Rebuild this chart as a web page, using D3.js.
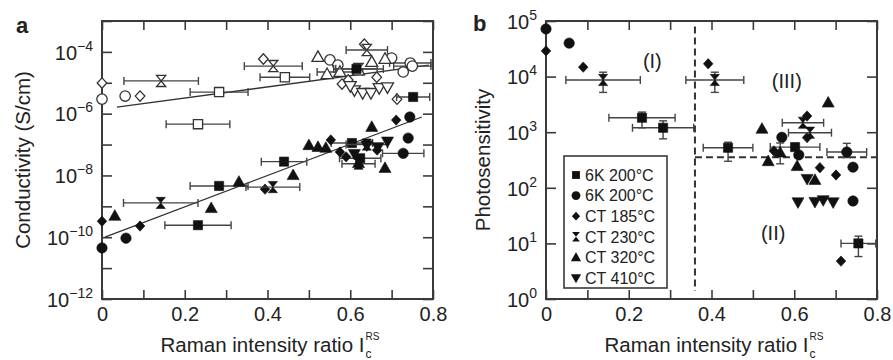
<!DOCTYPE html>
<html><head><meta charset="utf-8">
<script src="https://cdn.jsdelivr.net/npm/d3@7"></script>
<style>body{margin:0;background:#fff}svg{display:block}text{font-family:"Liberation Sans",Arial,Helvetica,sans-serif;fill:#222}</style>
</head><body><svg id="c" width="893" height="360"></svg>
<script>
// ---------- DATA ----------
const shapes = ["square","circle","diamond","hourglass","triangle","triangleDown"];
const legendLabels = ["6K 200°C","6K 200°C","CT 185°C","CT 230°C","CT 320°C","CT 410°C"];
const xTicks = [0,0.1,0.2,0.3,0.4,0.5,0.6,0.7,0.8];
const condTicks = [1e-12,1e-11,1e-10,1e-9,1e-8,1e-7,1e-6,1e-5,1e-4,1e-3];
const photoTicks = [1,10,100,1000,10000,100000];

// Panel a: [ratio, conductivity, xerr]  (open = upper group)
const aOpenSquare = [[0.283,5.0e-6,0.07],[0.232,4.57e-7,0.077],[0.442,1.51e-5,0.06]];
const aOpenCircle = [[0,2.95e-6,0],[0.056,3.72e-6,0],[0.551,5.5e-5,0],[0.57,3.72e-5,0],[0.728,2.24e-5,0],[0.745,4.37e-5,0.05],[0.75,3.47e-5,0.045],[0.70,6.3e-5,0]];
const aOpenDiamond = [[0,9.8e-6,0],[0.092,3.7e-6,0],[0.39,5.9e-5,0],[0.595,1.23e-5,0],[0.58,9.1e-6,0],[0.634,1.78e-4,0],[0.664,1.5e-5,0],[0.713,2.95e-6,0]];
const aOpenHourglass = [[0.143,1.15e-5,0.09],[0.414,3.47e-5,0.07],[0.64,1.15e-4,0.05],[0.62,2.8e-5,0.06]];
const aOpenTriangle = [[0.522,6.8e-5,0],[0.544,1.9e-5,0],[0.575,2.24e-5,0.055],[0.652,4.7e-5,0],[0.684,5.9e-5,0],[0.62,2.5e-5,0]];
const aOpenTriangleDown = [[0.61,5.75e-6,0],[0.63,4.7e-6,0],[0.65,4.7e-6,0],[0.67,6.8e-6,0],[0.69,7.2e-6,0],[0.60,7.9e-6,0]];
const aUpperFilledSquare = [[0.752,3.47e-6,0.04],[0.615,2.82e-5,0.05]];

const aSquare = [[0.232,2.45e-10,0.08],[0.283,4.57e-9,0.07],[0.44,2.8e-8,0.055],[0.624,3.6e-8,0.05],[0.604,1.12e-7,0.05]];
const aCircle = [[0,4.5e-11,0],[0.058,9.3e-11,0],[0.744,7.8e-7,0],[0.74,1.62e-7,0],[0.728,5.2e-8,0.05]];
const aDiamond = [[0,3.3e-10,0],[0.092,2.3e-10,0],[0.394,3.6e-9,0],[0.553,1.41e-7,0],[0.711,6.2e-7,0],[0.575,5.75e-8,0],[0.59,4.0e-8,0],[0.665,6.6e-8,0]];
const aHourglass = [[0.142,1.29e-9,0.09],[0.413,4.2e-9,0.065],[0.62,2.4e-8,0.04],[0.64,1.0e-7,0.05]];
const aTriangle = [[0.031,4.9e-10,0],[0.264,8.7e-10,0],[0.331,6.2e-9,0],[0.462,1.02e-8,0],[0.50,9.5e-8,0],[0.522,8.3e-8,0],[0.541,7.8e-8,0],[0.652,3.7e-7,0],[0.684,1.74e-8,0],[0.62,2.5e-8,0]];
const aTriangleDown = [[0.667,8.3e-8,0],[0.69,1.26e-7,0],[0.64,9.5e-8,0],[0.61,5.0e-8,0]];

// fit lines [ratio, conductivity] end points
const aUpperFit = [[0.036,1.62e-6],[0.79,3.7e-5]];
const aLowerFit = [[0.007,1.0e-10],[0.773,7.8e-7]];

// Panel b: [ratio, photosensitivity, xerr, ylow, yhigh]
const bSquare = [[0.232,1820,0.08,1200,2300],[0.283,1200,0.074,760,1600],[0.44,525,0.06,300,660],[0.602,540,0.06,0,0],[0.755,10,0.042,5.8,13.5]];
const bCircle = [[0,72000,0,0,0],[0.056,40000,0,0,0],[0.57,810,0,0,0],[0.611,390,0,0,0],[0.727,440,0.048,350,630],[0.742,235,0,0,0],[0.742,58,0,0,0]];
const bDiamond = [[0,29000,0,0,0],[0.09,14800,0,0,0],[0.392,17000,0,0,0],[0.631,1950,0,0,0],[0.631,800,0,0,0],[0.551,460,0,0,0],[0.662,230,0,0,0],[0.701,170,0,0,0],[0.713,4.8,0,0,0]];
const bHourglass = [[0.138,8700,0.09,5200,12000],[0.408,8700,0.07,5200,12000],[0.621,1480,0.05,0,0],[0.638,980,0.052,0,0]];
const bTriangle = [[0.522,1150,0,0,0],[0.682,3400,0,0,0],[0.566,430,0,270,640],[0.537,300,0,0,0],[0.607,245,0,0,0],[0.65,138,0,0,0]];
const bTriangleDown = [[0.631,145,0,0,0],[0.609,55,0,0,0],[0.65,56,0,0,0],[0.67,60,0,0,0],[0.694,55,0,0,0]];

const bThresholdX = 0.36;
const bThresholdY = 355;
const regionLabels = [["(I)",0.257,14300],["(III)",0.582,6240],["(II)",0.549,11.5]];

// ---------- DRAW ----------
const svg = d3.select("#c");
const ink = "#222", frame = "#3a3a3a";

function markerPath(shape){
  switch(shape){
    case "square": return "M-4.6,-4.6H4.6V4.6H-4.6Z";
    case "circle": return d3.symbol(d3.symbolCircle, 85)();
    case "diamond": return "M0,-5.2L4.8,0L0,5.2L-4.8,0Z";
    case "hourglass": return "M-4.6,-5.6H4.6L-4.6,5.6H4.6Z";
    case "triangle": return "M0,-6.2L6,4.4H-6Z";
    case "triangleDown": return "M0,6.2L6,-4.4H-6Z";
  }
}

function makePanel(opt){
  const g = svg.append("g");
  const x = d3.scaleLinear().domain([0,0.8]).range([opt.left,opt.right]);
  const y = d3.scaleLog().domain(opt.ydom).range([opt.bottom,opt.top]);
  const ax = (gen, tr) => g.append("g").attr("transform",tr).call(gen)
    .call(s=>s.select(".domain").remove())
    .call(s=>s.selectAll("line").attr("stroke",frame).attr("stroke-width",1.6));
  const bot = ax(d3.axisBottom(x).tickValues(xTicks).tickSize(-9).tickPadding(8)
      .tickFormat(d=> (Math.round(d*10)%2===0) ? (d===0?"0":d3.format(".1f")(d)) : ""),
      `translate(0,${opt.bottom})`);
  bot.selectAll("text").attr("font-size",20).attr("fill",ink).style("font-family","Liberation Sans, Arial");
  ax(d3.axisTop(x).tickValues(xTicks).tickSize(-9).tickFormat(""), `translate(0,${opt.top})`);
  const left = ax(d3.axisLeft(y).tickValues(opt.yticks).tickSize(-10).tickPadding(9).tickFormat(""), `translate(${opt.left},0)`);
  ax(d3.axisRight(y).tickValues(opt.yticks).tickSize(-10).tickFormat(""), `translate(${opt.right},0)`);
  left.selectAll(".tick").each(function(d){
    const e = Math.round(Math.log10(d));
    if(!opt.labelExp(e)) return;
    const t = d3.select(this).append("text").attr("x",-9).attr("dy","0.36em")
      .attr("text-anchor","end").attr("fill",ink).attr("font-size",20);
    t.append("tspan").text("10");
    t.append("tspan").attr("font-size",14).attr("dy",-9).text(e<0 ? "\u2212"+(-e) : String(e));
  });
  g.append("rect").attr("x",opt.left).attr("y",opt.top).attr("width",opt.right-opt.left)
    .attr("height",opt.bottom-opt.top).attr("fill","none").attr("stroke",frame).attr("stroke-width",2);
  // x title
  const cx = (opt.left+opt.right)/2;
  const tt = g.append("text").attr("font-size",20.5).attr("fill",ink).attr("y",352).text("Raman intensity ratio I");
  const tw = tt.node().getComputedTextLength();
  const sx = cx - (tw+10)/2;
  tt.attr("x",sx);
  g.append("text").attr("x",sx+tw+1).attr("y",358).attr("font-size",12).attr("fill",ink).text("c");
  g.append("text").attr("x",sx+tw+1).attr("y",340).attr("font-size",10).attr("fill",ink).text("RS");
  // y title
  g.append("text").attr("transform",`translate(${opt.ytitleX},160) rotate(-90)`).attr("text-anchor","middle")
    .attr("font-size",20.5).attr("fill",ink).text(opt.ytitle);
  g.append("text").attr("x",opt.labelX).attr("y",opt.labelY).attr("font-size",22).attr("font-weight","bold")
    .attr("fill","#111").text(opt.label);
  return {g,x,y};
}

function drawSeries(P, data, shape, filled, hasY){
  const eb = P.g.append("g").attr("stroke","#444").attr("stroke-width",1.4).attr("fill","none");
  data.forEach(d=>{
    const px = P.x(d[0]), py = P.y(d[1]);
    if(d[2]>0){
      const x0=P.x(d[0]-d[2]), x1=P.x(d[0]+d[2]);
      eb.append("line").attr("x1",x0).attr("x2",x1).attr("y1",py).attr("y2",py);
      eb.append("line").attr("x1",x0).attr("x2",x0).attr("y1",py-4).attr("y2",py+4);
      eb.append("line").attr("x1",x1).attr("x2",x1).attr("y1",py-4).attr("y2",py+4);
    }
    if(hasY && d[3]>0){
      const y0=P.y(d[3]), y1=P.y(d[4]);
      eb.append("line").attr("x1",px).attr("x2",px).attr("y1",y0).attr("y2",y1);
      eb.append("line").attr("x1",px-4).attr("x2",px+4).attr("y1",y0).attr("y2",y0);
      eb.append("line").attr("x1",px-4).attr("x2",px+4).attr("y1",y1).attr("y2",y1);
    }
  });
  P.g.append("g").selectAll("path").data(data).join("path")
    .attr("d",markerPath(shape))
    .attr("transform",d=>`translate(${P.x(d[0])},${P.y(d[1])})`)
    .attr("fill",filled?"#111":"#fff").attr("stroke",filled?"#111":"#333").attr("stroke-width",filled?0.6:1.3);
}

// Panel a
const A = makePanel({left:102,right:433,top:21,bottom:299,ydom:[1e-12,1e-3],yticks:condTicks,
  labelExp:e=>e%2===0, ytitle:"Conductivity (S/cm)", ytitleX:30, label:"a", labelX:16, labelY:33});
const line = d3.line().x(d=>A.x(d[0])).y(d=>A.y(d[1]));
A.g.append("path").attr("d",line(aUpperFit)).attr("stroke","#333").attr("stroke-width",1.3).attr("fill","none");
A.g.append("path").attr("d",line(aLowerFit)).attr("stroke","#333").attr("stroke-width",1.3).attr("fill","none");
[[aOpenSquare,"square"],[aOpenCircle,"circle"],[aOpenDiamond,"diamond"],[aOpenHourglass,"hourglass"],
 [aOpenTriangle,"triangle"],[aOpenTriangleDown,"triangleDown"]].forEach(([d,s])=>drawSeries(A,d,s,false,false));
drawSeries(A,aUpperFilledSquare,"square",true,false);
[[aSquare,"square"],[aCircle,"circle"],[aDiamond,"diamond"],[aHourglass,"hourglass"],
 [aTriangle,"triangle"],[aTriangleDown,"triangleDown"]].forEach(([d,s])=>drawSeries(A,d,s,true,false));

// Panel b
const B = makePanel({left:546,right:877,top:21,bottom:299,ydom:[1,1e5],yticks:photoTicks,
  labelExp:e=>true, ytitle:"Photosensitivity", ytitleX:490, label:"b", labelX:473, labelY:31});
B.g.append("line").attr("x1",B.x(bThresholdX)).attr("x2",B.x(bThresholdX)).attr("y1",B.y(80000)).attr("y2",B.y(1.4))
  .attr("stroke","#333").attr("stroke-width",2).attr("stroke-dasharray","7,4");
B.g.append("line").attr("x1",B.x(bThresholdX)).attr("x2",B.x(0.8)).attr("y1",B.y(bThresholdY)).attr("y2",B.y(bThresholdY))
  .attr("stroke","#333").attr("stroke-width",2).attr("stroke-dasharray","7,4");
regionLabels.forEach(r=>B.g.append("text").attr("x",B.x(r[1])).attr("y",B.y(r[2])).attr("text-anchor","middle")
  .attr("font-size",20).attr("fill",ink).text(r[0]));
[[bSquare,"square"],[bCircle,"circle"],[bDiamond,"diamond"],[bHourglass,"hourglass"],
 [bTriangle,"triangle"],[bTriangleDown,"triangleDown"]].forEach(([d,s])=>drawSeries(B,d,s,true,true));

// legend
const L = B.g.append("g");
L.append("rect").attr("x",564).attr("y",156).attr("width",103).attr("height",132).attr("fill","#fff")
  .attr("stroke",frame).attr("stroke-width",1.6);
shapes.forEach((s,i)=>{
  const yy = 175 + i*20.6;
  L.append("path").attr("d",markerPath(s)).attr("transform",`translate(576,${yy}) scale(0.85)`).attr("fill","#111");
  L.append("text").attr("x",585).attr("y",yy).attr("dy","0.36em").attr("font-size",16).attr("fill",ink).text(legendLabels[i]);
});
</script></body></html>
